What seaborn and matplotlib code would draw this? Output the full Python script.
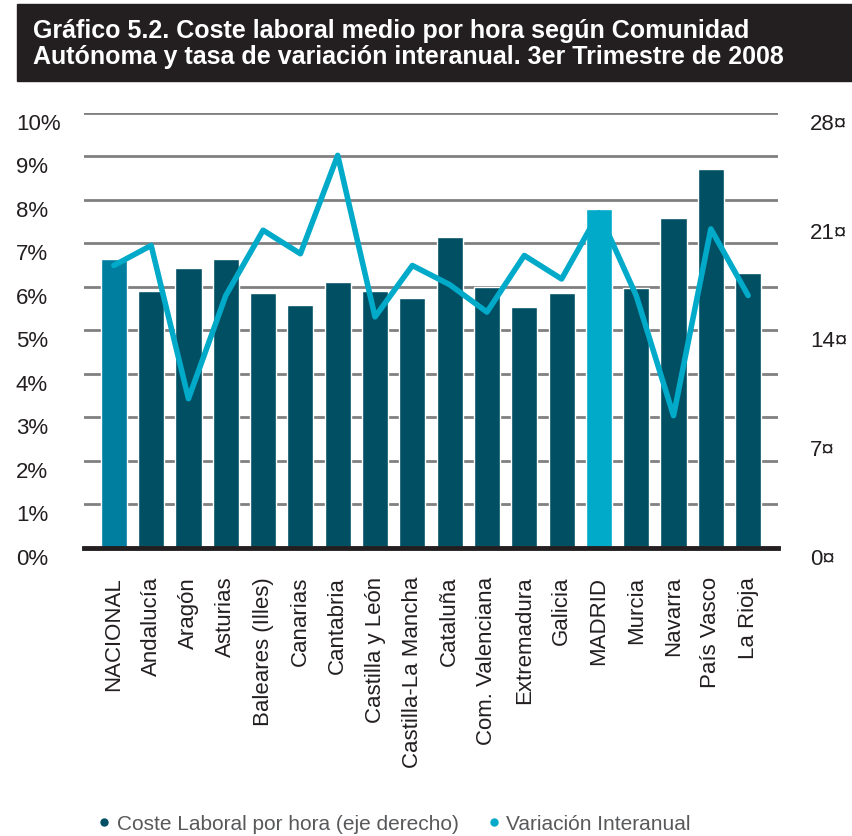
import numpy as np
import pandas as pd
import matplotlib
matplotlib.use('Agg')
import matplotlib.pyplot as plt
from matplotlib.patches import Rectangle
from matplotlib.lines import Line2D
import seaborn as sns

# datos
regiones = ['NACIONAL', 'Andalucía', 'Aragón', 'Asturias', 'Baleares (Illes)',
            'Canarias', 'Cantabria', 'Castilla y León', 'Castilla-La Mancha',
            'Cataluña', 'Com. Valenciana', 'Extremadura', 'Galicia', 'MADRID',
            'Murcia', 'Navarra', 'País Vasco', 'La Rioja']
coste_hora = [18.6, 16.5, 18.0, 18.6, 16.4, 15.6, 17.1, 16.5, 16.1,
              20.0, 16.8, 15.5, 16.4, 21.8, 16.7, 21.2, 24.4, 17.7]
variacion = [6.49, 6.95, 3.43, 5.80, 7.30, 6.76, 9.02, 5.31, 6.49,
             6.05, 5.42, 6.72, 6.18, 7.70, 5.80, 3.04, 7.33, 5.80]
ticks_pct = [0, 1, 2, 3, 4, 5, 6, 7, 8, 9, 10]
ticks_eur = [0, 7, 14, 21, 28]

c_oscuro = '#004F63'
c_nacional = '#007EA0'
c_claro = '#00AAC8'
c_texto = '#231F20'

sns.set_style('white')
plt.rcParams['font.family'] = ['Liberation Sans', 'DejaVu Sans']

df = pd.DataFrame({'region': regiones, 'coste': coste_hora})
colores = {r: c_oscuro for r in regiones}
colores['NACIONAL'] = c_nacional
colores['MADRID'] = c_claro

fig = plt.figure(figsize=(8.53, 8.37), dpi=100)
ax = fig.add_axes([84/853, 1 - 549/837, (778 - 84)/853, (549 - 113.7)/837])

# barras -> eje derecho
sns.barplot(data=df, x='region', y='coste', hue='region', palette=colores,
            legend=False, width=0.7, saturation=1, ax=ax)

# línea -> eje izquierdo (encima de las barras)
ax2 = ax.twinx()
sns.lineplot(x=np.arange(len(regiones)), y=variacion, ax=ax2,
             color=c_claro, lw=4)
ax2.set_ylim(0, 10)
ax2.yaxis.tick_left()
ax2.set_yticks(ticks_pct)
ax2.set_yticklabels([f'{v}%' for v in ticks_pct])
ax2.tick_params(which='both', length=0)
ax2.tick_params(axis='y', pad=49, labelsize=16, labelcolor=c_texto)
ax2.set_ylabel('')
for s in ax2.spines.values():
    s.set_visible(False)

ax.set_ylim(0, 28)
ax.yaxis.tick_right()
ax.set_yticks(ticks_eur)
ax.set_yticklabels([f'{v}¤' for v in ticks_eur])
ax.yaxis.remove_overlapping_locs = False
ax.set_yticks(np.linspace(0, 28, 11), minor=True)
ax.grid(which='minor', axis='y', color='#808080', lw=2)
ax.grid(which='major', visible=False)
ax.set_axisbelow(True)
ax.tick_params(which='both', length=0)
ax.tick_params(axis='y', pad=23, labelsize=16, labelcolor=c_texto)
ax.tick_params(axis='x', pad=20, labelsize=16, labelcolor=c_texto)
ax.set_xticks(range(len(regiones)))
ax.set_xticklabels(regiones, rotation=90)
ax.set_xlabel('')
ax.set_ylabel('')
for s in ['top', 'left', 'right']:
    ax.spines[s].set_visible(False)
ax.spines['bottom'].set_linewidth(3.5)
ax.spines['bottom'].set_color(c_texto)
ax.set_xlim(-0.8, 17.8)

for l in ax2.get_yticklabels():
    l.set_ha('left')
    l.set_va('top')
for l in ax.get_yticklabels():
    l.set_va('top')

# título
fig.patches.append(Rectangle((17/853, 1 - 82/837), 1, 77/837,
                             transform=fig.transFigure, color=c_texto, zorder=0))
fig.text(33/853, 1 - 44/837,
         'Gráfico 5.2. Coste laboral medio por hora según Comunidad\n'
         'Autónoma y tasa de variación interanual. 3er Trimestre de 2008',
         color='white', fontsize=18, fontweight='bold', va='center', ha='left',
         linespacing=1.1)

# leyenda
handles = [Line2D([], [], marker='o', ls='', color=c_oscuro, markersize=5),
           Line2D([], [], marker='o', ls='', color=c_claro, markersize=5)]
fig.legend(handles, ['Coste Laboral por hora (eje derecho)', 'Variación Interanual'],
           loc='center', bbox_to_anchor=(0.46, 1 - 825/837), ncol=2,
           frameon=False, fontsize=15, labelcolor='#58595B',
           handletextpad=0.1, columnspacing=1.2, handlelength=1)

fig.savefig('out.png', dpi=100)
